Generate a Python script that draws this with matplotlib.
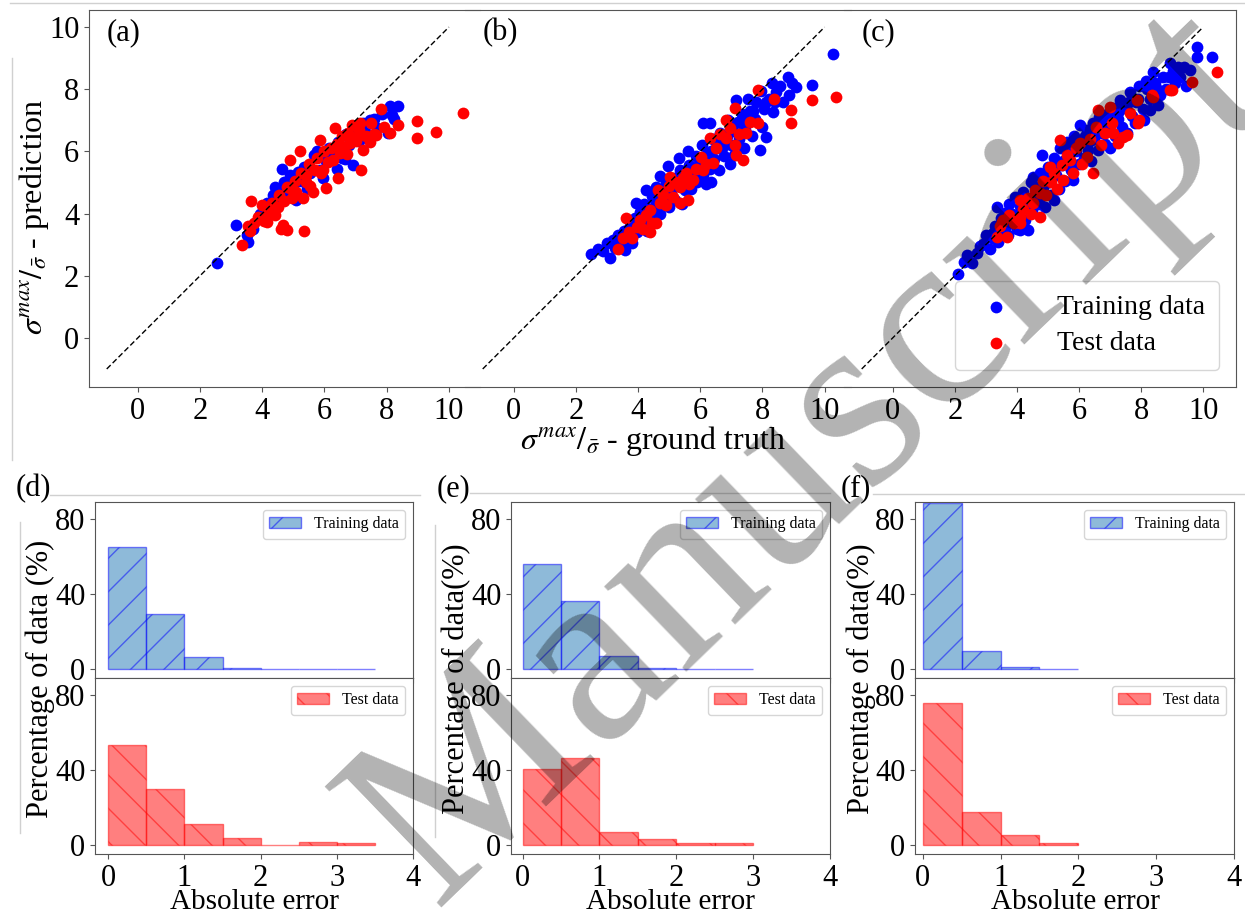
import numpy as np
import matplotlib
matplotlib.use("Agg")
import matplotlib.pyplot as plt
from matplotlib.lines import Line2D
from matplotlib.patches import Patch

plt.rcParams['font.family'] = ['Liberation Serif', 'DejaVu Serif']
plt.rcParams['mathtext.fontset'] = 'stix'

# ---- scatter data (ground truth, prediction) ----
a_train = np.array([[2.53,2.40],[3.17,3.64],[3.55,3.10],[3.50,3.30],[3.70,3.50],[3.92,4.00],[4.05,4.20],[4.14,4.33],
    [4.25,4.05],[4.35,4.60],[4.40,4.87],[4.45,4.30],[4.55,4.75],[4.62,5.45],[4.70,5.00],[4.80,4.55],[4.90,5.25],
    [5.00,4.90],[5.10,4.45],[5.15,5.35],[5.25,5.05],[5.35,5.50],[5.45,4.80],[5.55,5.30],[5.65,5.90],[5.75,6.00],
    [5.85,5.40],[5.95,5.15],[6.05,5.70],[6.15,6.10],[6.25,5.90],[6.39,5.45],[6.45,6.30],[6.55,5.80],[6.66,5.77],
    [6.70,6.55],[6.80,6.20],[6.92,5.56],[7.00,6.70],[7.10,6.35],[7.25,6.90],[7.35,6.60],[7.46,7.00],[7.60,7.05],
    [7.70,6.75],[7.85,7.20],[8.05,6.60],[8.10,7.45],[8.16,7.17],[8.25,7.05],[8.37,7.45]])
a_test = np.array([[3.36,3.00],[3.55,3.60],[3.60,3.44],[3.65,4.40],[3.75,3.70],[3.85,3.90],[3.98,4.28],[4.05,3.75],
    [4.14,3.74],[4.20,4.05],[4.30,4.35],[4.40,3.95],[4.51,4.22],[4.55,4.60],[4.60,3.50],[4.66,3.63],[4.70,4.40],
    [4.78,3.47],[4.80,4.85],[4.89,4.82],[4.89,5.71],[4.95,4.50],[5.05,5.05],[5.10,4.70],[5.21,6.00],[5.25,5.30],
    [5.32,4.50],[5.35,3.44],[5.40,5.00],[5.42,5.24],[5.50,5.60],[5.55,4.90],[5.64,4.71],[5.70,5.40],[5.75,5.80],
    [5.85,6.37],[5.90,5.30],[5.96,5.40],[6.00,6.00],[6.06,4.82],[6.10,5.65],[6.20,6.10],[6.28,5.73],[6.33,6.74],
    [6.40,6.25],[6.44,5.14],[6.50,5.95],[6.55,6.50],[6.60,6.15],[6.71,5.93],[6.75,6.60],[6.82,6.26],[6.90,6.85],
    [7.00,6.35],[7.03,6.47],[7.10,6.70],[7.14,6.90],[7.19,5.40],[7.24,6.05],[7.35,6.50],[7.45,6.30],[7.51,6.93],
    [7.60,6.55],[7.67,6.53],[7.83,7.35],[7.90,6.80],[8.10,6.60],[8.37,6.85],[8.96,6.99],[8.96,6.42],[9.60,6.63],
    [10.46,7.22]])

b_train = np.array([[2.50,2.70],[2.70,2.85],[2.87,2.81],[3.00,3.05],[3.09,2.56],[3.19,3.15],[3.25,2.90],[3.35,3.30],
    [3.45,2.95],[3.57,2.83],[3.55,3.45],[3.65,3.20],[3.75,3.60],[3.80,3.05],[3.90,3.85],[3.94,4.33],[3.95,3.40],
    [4.05,4.05],[4.10,3.60],[4.20,4.30],[4.25,3.80],[4.30,3.45],[4.40,4.15],[4.45,4.55],[4.50,3.90],[4.59,4.87],
    [4.60,4.30],[4.70,4.00],[4.75,4.65],[4.85,4.35],[4.90,5.00],[4.96,5.52],[5.00,4.20],[5.05,4.70],[5.15,5.15],
    [5.20,4.45],[5.30,4.90],[5.35,5.40],[5.40,4.30],[5.50,4.75],[5.55,5.20],[5.60,6.00],[5.65,5.55],[5.70,4.80],
    [5.80,5.30],[5.85,5.85],[5.90,5.00],[6.00,5.60],[6.05,6.20],[6.10,5.25],[6.20,4.95],[6.20,5.90],[6.30,6.91],
    [6.30,5.45],[6.36,5.03],[6.40,6.40],[6.45,5.75],[6.55,6.10],[6.60,5.40],[6.65,6.60],[6.75,5.85],[6.80,6.35],
    [6.90,7.00],[6.95,5.60],[7.00,6.20],[7.05,6.65],[7.10,5.90],[7.16,7.66],[7.20,6.95],[7.25,6.40],[7.35,7.20],
    [7.40,6.10],[7.45,6.70],[7.53,7.69],[7.60,7.30],[7.65,6.50],[7.75,7.05],[7.80,7.60],[7.91,6.04],[7.95,7.95],
    [8.00,6.80],[8.05,7.35],[8.13,6.47],[8.20,7.70],[8.30,8.20],[8.34,7.28],[8.45,7.90],[8.55,8.10],[8.65,7.60],
    [8.82,8.40],[8.87,7.81],[8.95,8.20],[9.09,8.08],[9.60,8.13],[10.27,9.15],[6.10,6.90],[5.30,5.80],[4.70,5.20],
    [4.25,4.75],[3.30,3.10],[3.50,3.10],[3.70,3.35],[3.85,3.55],[4.00,3.80],[4.15,3.95],[4.30,4.10],[4.55,4.45],
    [4.65,4.60],[4.80,4.80],[5.00,4.60],[5.10,4.85],[5.25,5.05],[5.45,5.00],[5.60,5.10],[5.75,5.50],[5.95,5.80],
    [6.15,5.65],[6.35,6.00],[6.50,6.30],[6.70,6.10],[6.85,6.50],[7.00,6.70],[7.30,6.90],[7.50,7.00],[7.70,7.30],
    [8.10,7.60],[8.40,7.60]])
b_test = np.array([[3.35,2.86],[3.51,3.21],[3.62,3.85],[3.70,3.40],[3.80,3.20],[3.95,3.58],[4.05,3.80],[4.15,3.50],
    [4.25,3.95],[4.37,3.42],[4.37,4.12],[4.45,3.70],[4.59,3.69],[4.64,4.76],[4.70,4.35],[4.80,4.60],[4.91,4.28],
    [5.00,4.90],[5.02,5.19],[5.12,4.54],[5.20,5.00],[5.34,4.33],[5.34,4.87],[5.45,5.15],[5.55,5.30],[5.60,4.44],
    [5.65,4.95],[5.77,5.08],[5.85,5.45],[6.03,5.83],[6.09,5.40],[6.20,5.60],[6.30,6.42],[6.41,5.62],[6.50,6.10],
    [6.65,6.55],[6.84,6.42],[6.84,7.00],[6.95,6.75],[7.11,7.39],[7.11,6.21],[7.16,5.88],[7.25,6.55],[7.37,5.72],
    [7.48,6.58],[7.59,6.96],[7.86,6.90],[7.86,7.97],[8.36,7.68],[8.93,7.33],[8.93,6.90],[9.60,7.65],[10.37,7.76]])

c_train = np.array([[2.11,2.06],[2.30,2.45],[2.38,2.67],[2.54,2.40],[2.70,2.72],[2.80,2.95],[2.91,3.03],[3.00,3.30],
    [3.13,2.87],[3.24,3.37],[3.30,3.60],[3.35,4.22],[3.40,3.10],[3.50,3.85],[3.55,3.45],[3.61,4.01],[3.70,3.30],
    [3.75,4.30],[3.80,3.70],[3.94,4.54],[3.95,3.95],[4.00,3.50],[4.10,3.47],[4.10,4.25],[4.20,4.70],[4.25,3.80],
    [4.37,3.47],[4.35,4.45],[4.45,5.00],[4.50,4.10],[4.53,5.18],[4.60,4.60],[4.70,4.30],[4.75,5.30],[4.80,5.88],
    [4.85,4.85],[4.90,4.20],[5.00,5.50],[5.05,5.00],[5.10,4.60],[5.18,4.44],[5.20,5.80],[5.25,5.25],[5.35,4.80],
    [5.40,6.10],[5.45,5.55],[5.55,5.05],[5.60,6.30],[5.65,5.80],[5.75,5.40],[5.82,5.08],[5.85,6.50],[5.90,6.00],
    [6.00,5.60],[6.03,6.85],[6.10,6.30],[6.15,5.80],[6.25,6.70],[6.30,6.05],[6.40,5.70],[6.45,6.90],[6.50,6.40],
    [6.60,6.05],[6.65,7.10],[6.75,6.60],[6.85,6.25],[6.90,7.20],[7.00,6.10],[7.00,6.85],[7.10,7.40],[7.15,6.50],
    [7.25,7.05],[7.32,7.65],[7.40,6.80],[7.50,7.40],[7.55,6.60],[7.65,7.90],[7.70,7.15],[7.80,6.90],[7.85,7.60],
    [7.95,8.10],[8.05,7.35],[8.10,7.00],[8.20,8.00],[8.29,7.33],[8.30,7.70],[8.40,8.56],[8.45,8.20],[8.56,7.49],
    [8.61,7.80],[8.70,8.40],[8.80,8.00],[8.94,8.83],[9.04,8.60],[9.10,8.20],[9.26,8.40],[9.37,8.72],[9.45,8.10],
    [9.58,8.62],[9.80,9.36],[9.80,9.05],[10.28,9.05],[3.20,3.20],[3.45,3.35],[3.65,3.60],[3.85,4.00],[4.05,3.95],
    [4.25,4.20],[4.40,4.35],[4.60,4.85],[4.80,4.55],[5.00,5.20],[5.15,5.45],[5.30,5.60],[5.50,5.70],[5.70,6.00],
    [5.95,6.30],[6.20,6.50],[6.35,6.35],[6.55,6.65],[6.80,6.90],[7.05,7.15],[7.30,7.30],[7.60,7.60],[7.90,7.70],
    [8.15,8.25],[8.50,8.00],[8.90,8.40],[9.20,8.70]])
c_test = np.array([[3.35,3.26],[3.45,3.60],[3.51,3.74],[3.56,3.79],[3.67,3.26],[3.75,3.95],[3.90,3.70],[4.10,3.69],
    [4.10,3.90],[4.10,4.44],[4.20,4.15],[4.35,4.50],[4.45,4.00],[4.53,4.33],[4.60,4.75],[4.74,3.90],[4.74,4.65],
    [4.85,5.05],[4.95,4.60],[5.06,5.51],[5.10,5.00],[5.20,5.30],[5.30,4.80],[5.39,6.37],[5.45,5.55],[5.49,5.08],
    [5.60,5.90],[5.71,5.72],[5.80,5.30],[5.90,6.10],[6.03,6.26],[6.10,5.60],[6.25,5.83],[6.35,6.40],[6.46,5.29],
    [6.55,6.80],[6.62,7.33],[6.70,6.20],[6.85,6.60],[7.00,7.43],[7.05,6.90],[7.11,6.58],[7.27,6.26],[7.43,6.47],
    [7.54,6.53],[7.65,7.25],[7.86,7.65],[7.91,6.90],[7.92,7.02],[8.35,7.81],[8.40,7.76],[8.94,7.97],[8.99,7.97],
    [9.63,8.24],[10.44,8.56]])

# ---- error histograms (% of data per 0.5 bin) ----
d_train = [65, 29, 6, 0.3, 0, 0, 0]
d_test = [53, 29.5, 11, 3.5, 0, 1.5, 1]
e_train = [56, 36, 7, 0.5, 0, 0]
e_test = [40.5, 46.5, 7, 3, 1, 1]
f_train = [88.5, 9.6, 0.7, 0]
f_test = [75.7, 17.6, 5, 0.8]

W, H = 1245, 919
fig = plt.figure(figsize=(W/100, H/100), dpi=100)

def box(x0, y0, x1, y1):
    return [x0/W, 1-y1/H, (x1-x0)/W, (y1-y0)/H]

spc = '#555555'

# faint frame lines of the composite figure
for xs, ys in [([10, 1245], [3, 3]), ([12, 12], [58, 460]), ([50, 420], [495, 495]),
               ([470, 830], [493, 493]), ([873, 1245], [494, 494]), ([20, 20], [522, 833]),
               ([435, 435], [525, 837])]:
    fig.add_artist(Line2D([x/W for x in xs], [1-y/H for y in ys], color='#d0d0d0', lw=1))

# ---- top row: scatter ----
sc_boxes = [(89, 480, -1.57, 11.0), (465, 851, -1.57, 10.85), (844, 1236, -1.57, 11.06)]
sc_data = [(a_train, a_test), (b_train, b_test), (c_train, c_test)]
for i, ((x0, x1, xl, xr), (tr, te)) in enumerate(zip(sc_boxes, sc_data)):
    ax = fig.add_axes(box(x0, 10, x1, 387))
    ax.patch.set_alpha(0)
    ax.plot([-1, 10], [-1, 10], color='k', ls=(0, (4, 2)), lw=1)
    ax.scatter(tr[:, 0], tr[:, 1], s=72, color='#0000ff', lw=0, label='Training data')
    ax.scatter(te[:, 0], te[:, 1], s=72, color='#ff0000', lw=0, label='Test data')
    ax.set_xlim(xl, xr)
    ax.set_ylim(-1.58, 10.55)
    ax.set_xticks([0, 2, 4, 6, 8, 10])
    ax.set_yticks([0, 2, 4, 6, 8, 10])
    ax.tick_params(labelsize=22, color=spc)
    for s in ax.spines.values():
        s.set_color(spc)
    if i > 0:
        ax.spines['left'].set_visible(False)
        ax.tick_params(axis='y', left=False, labelleft=False)
    if i < 2:
        ax.spines['right'].set_visible(False)
    ax.text(0.045, 0.94, '(%s)' % 'abc'[i], transform=ax.transAxes, fontsize=22, va='center', ha='left')
    if i == 2:
        ax.legend(loc='lower right', fontsize=20, markerscale=1.0, handletextpad=1.2,
                  borderpad=0.5, labelspacing=0.4, borderaxespad=0.6)

fig.text(34/W, 1-217/H, r'$\sigma^{max}/_{\bar{\sigma}}$ - prediction', rotation=90,
         fontsize=23, ha='center', va='center')
fig.text(653/W, 1-441/H, r'$\sigma^{max}/_{\bar{\sigma}}$ - ground truth',
         fontsize=23, ha='center', va='center')

# ---- bottom row: histograms ----
edges_left = np.arange(0, 4, 0.5)
hist_cfg = [(95, 413, -0.175, d_train, d_test, 'Percentage of data (%)', 40, 254, 33, 'd'),
            (511, 830, -0.15, e_train, e_test, 'Percentage of data(%)', 456, 670, 453, 'e'),
            (915, 1234, -0.10, f_train, f_test, 'Percentage of data(%)', 861, 1075, 856, 'f')]
for x0, x1, xl, tr, te, ylab, ylx, xlx, plx, tag in hist_cfg:
    for k, (vals, y0, y1) in enumerate([(tr, 502, 678), (te, 678, 854)]):
        ax = fig.add_axes(box(x0, y0, x1, y1))
        if k == 0:
            ax.bar(edges_left[:len(vals)], vals, width=0.5, align='edge', color='C0', alpha=0.5,
                   edgecolor='b', hatch='/', lw=1)
            h = Patch(facecolor='C0', alpha=0.5, edgecolor='b', hatch='/')
            ax.legend([h], ['Training data'], loc='upper right', fontsize=11.5)
        else:
            ax.bar(edges_left[:len(vals)], vals, width=0.5, align='edge', color='r', alpha=0.5,
                   edgecolor='r', hatch='\\', lw=1)
            h = Patch(facecolor='r', alpha=0.5, edgecolor='r', hatch='\\')
            ax.legend([h], ['Test data'], loc='upper right', fontsize=11.5)
        ax.set_xlim(xl, 4)
        ax.set_ylim(-5, 89)
        ax.set_yticks([0, 40, 80])
        ax.set_xticks([0, 1, 2, 3, 4])
        ax.tick_params(labelsize=22, color=spc)
        for s in ax.spines.values():
            s.set_color(spc)
        if k == 0:
            ax.tick_params(labelbottom=False)
    fig.text(ylx/W, 1-679/H, ylab, rotation=90, fontsize=22, ha='center', va='center')
    fig.text(xlx/W, 1-902/H, 'Absolute error', fontsize=21, ha='center', va='center')
    fig.text(plx/W, 1-489/H, '(%s)' % tag, fontsize=22, ha='center', va='center')

# watermark
fig.text(813/W, 1-457/H, 'Manuscript', rotation=44, fontsize=185, color='k', alpha=0.3,
         ha='center', va='center', rotation_mode='anchor', zorder=10)

fig.savefig('out.png', dpi=100)
